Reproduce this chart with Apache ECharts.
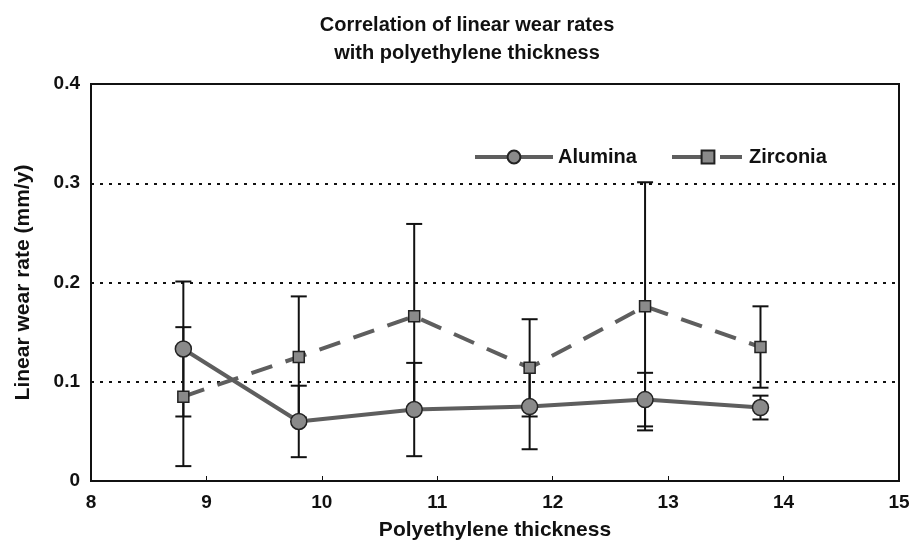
<!DOCTYPE html>
<html>
<head>
<meta charset="utf-8">
<title>Linear wear rates</title>
<script src="https://cdn.jsdelivr.net/npm/echarts@6/dist/echarts.min.js"></script>
<style>
  html, body { margin: 0; padding: 0; background: #fff; }
  #myChart { width: 910px; height: 543px; }
</style>
</head>
<body>
<div id="myChart"></div>
<script>
// values
const thickness = [8.8, 9.8, 10.8, 11.8, 12.8, 13.8];
const alumina = [0.133, 0.060, 0.072, 0.075, 0.082, 0.074];
const aluminaSd = [0.068, 0.036, 0.047, 0.043, 0.027, 0.012];
const zirconia = [0.085, 0.125, 0.166, 0.114, 0.176, 0.135];
const zirconiaSd = [0.070, 0.061, 0.093, 0.049, 0.125, 0.041];
const xTicks = [8, 9, 10, 11, 12, 13, 14, 15];
const yTicks = [0, 0.1, 0.2, 0.3, 0.4];

const font = "'Liberation Sans', Arial, sans-serif";
const ink = "#111";
const lineGrey = "#5e5e5e";

const points = function(vals) {
  return thickness.map((x, i) => [x, vals[i]]);
};
const bars = function(vals, sd) {
  return thickness.map((x, i) => [x, vals[i] - sd[i], vals[i] + sd[i]]);
};

// vertical error bar with a cap at each end
const errorBar = function(params, api) {
  const lo = api.coord([api.value(0), api.value(1)]);
  const hi = api.coord([api.value(0), api.value(2)]);
  const half = 8;
  const style = { stroke: ink, lineWidth: 2 };
  return {
    type: "group",
    children: [
      { type: "line", shape: { x1: lo[0], y1: lo[1], x2: hi[0], y2: hi[1] }, style: style },
      { type: "line", shape: { x1: lo[0] - half, y1: lo[1], x2: lo[0] + half, y2: lo[1] }, style: style },
      { type: "line", shape: { x1: hi[0] - half, y1: hi[1], x2: hi[0] + half, y2: hi[1] }, style: style }
    ]
  };
};

const legendText = { fontFamily: font, fontSize: 20, fontWeight: "bold", color: ink };

const myChart = echarts.init(document.getElementById("myChart"));

const option = {
  backgroundColor: "#fff",
  animation: false,
  title: {
    text: "Correlation of linear wear rates\nwith polyethylene thickness",
    left: 462,
    textAlign: "center",
    top: 6,
    textStyle: {
      fontFamily: font,
      fontSize: 20,
      fontWeight: "bold",
      color: ink,
      lineHeight: 28
    }
  },
  legend: [
    {
      left: 473,
      top: 147,
      padding: 0,
      itemWidth: 78,
      itemHeight: 16,
      textStyle: legendText,
      lineStyle: { width: 4 },
      data: ["Alumina"]
    },
    {
      left: 670,
      top: 147,
      padding: 0,
      itemWidth: 72,
      itemHeight: 16,
      textStyle: legendText,
      lineStyle: { width: 4, type: [31, 17, 22, 100] },
      data: ["Zirconia"]
    }
  ],
  grid: {
    left: 91,
    right: 11,
    top: 84,
    bottom: 62,
    outerBoundsMode: "none",
    show: true,
    borderColor: ink,
    borderWidth: 2
  },
  xAxis: {
    type: "value",
    min: xTicks[0],
    max: xTicks[xTicks.length - 1],
    interval: 1,
    name: "Polyethylene thickness",
    nameLocation: "middle",
    nameGap: 39,
    nameTextStyle: { fontFamily: font, fontSize: 21, fontWeight: "bold", color: ink },
    axisLine: { lineStyle: { color: ink, width: 2 } },
    axisTick: { inside: true, length: 5, lineStyle: { color: ink } },
    axisLabel: { fontFamily: font, fontSize: 19, fontWeight: "bold", color: ink, margin: 12 },
    splitLine: { show: false }
  },
  yAxis: {
    type: "value",
    min: yTicks[0],
    max: yTicks[yTicks.length - 1],
    interval: 0.1,
    name: "Linear wear rate (mm/y)",
    nameLocation: "middle",
    nameGap: 57,
    nameTextStyle: { fontFamily: font, fontSize: 21, fontWeight: "bold", color: ink },
    axisLine: { lineStyle: { color: ink, width: 2 } },
    axisTick: { show: false },
    axisLabel: { fontFamily: font, fontSize: 19, fontWeight: "bold", color: ink, margin: 11 },
    splitLine: {
      show: true,
      lineStyle: { color: ink, width: 2, type: [3, 6] }
    }
  },
  series: [
    {
      name: "Alumina bars",
      type: "custom",
      renderItem: errorBar,
      data: bars(alumina, aluminaSd),
      z: 1
    },
    {
      name: "Zirconia bars",
      type: "custom",
      renderItem: errorBar,
      data: bars(zirconia, zirconiaSd),
      z: 1
    },
    {
      name: "Alumina",
      type: "line",
      data: points(alumina),
      symbol: "circle",
      symbolSize: 16,
      lineStyle: { color: lineGrey, width: 4 },
      itemStyle: { color: "#8a8a8a", borderColor: "#222", borderWidth: 1.5 },
      z: 3
    },
    {
      name: "Zirconia",
      type: "line",
      data: points(zirconia),
      symbol: "rect",
      symbolSize: 11,
      lineStyle: { color: lineGrey, width: 4, type: [22, 14] },
      itemStyle: { color: "#8a8a8a", borderColor: "#222", borderWidth: 1.5 },
      z: 3
    }
  ]
};

myChart.setOption(option);
</script>
</body>
</html>
